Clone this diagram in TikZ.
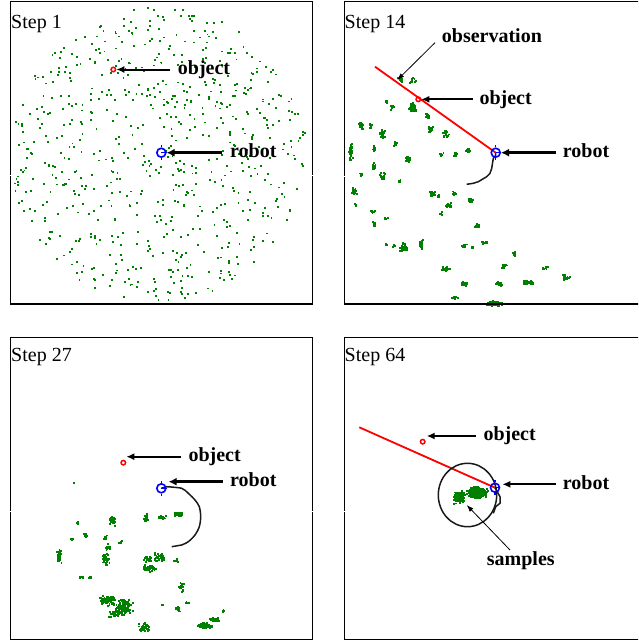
\documentclass[tikz,border=0pt]{standalone}
\usepackage{fontspec}
\setmainfont{Liberation Serif}
\usetikzlibrary{arrows.meta}
\definecolor{grn}{RGB}{0,128,0}
\definecolor{rd}{RGB}{255,0,0}
\definecolor{bl}{RGB}{0,0,255}
\newcommand\robotat[2]{%
  \node[robmark] (#1) at (#2) {};
  \draw[robline] (#1.north) -- ++(0,-2.2) (#1.south) -- ++(0,2.2) (#1.center) -- (#1.east);
}
\newcommand\clusters[1]{%
  \foreach \cx/\cy/\sx/\sy/\n in {#1}{
    \pgfmathtruncatemacro\nn{max(1,1.8*\n)}
    \foreach \j in {1,...,\nn}{
      \pgfmathsetmacro\px{\cx+\sx*(rand+rand)/2}
      \pgfmathsetmacro\py{\cy+\sy*(rand+rand)/2}
      \fill[grn] (\px,\py) rectangle ++(1.9,1.9);
    }
  }
}
\begin{document}
\begin{tikzpicture}[x=1pt,y=-1pt,
  frame/.style={line width=1.5pt,black},
  steplbl/.style={font=\fontsize{20}{24}\selectfont,inner sep=0,anchor=base west},
  lbl/.style={font=\fontsize{20}{24}\selectfont\bfseries,inner sep=0,anchor=base west},
  objmark/.style={circle,draw=rd,line width=1.5pt,minimum size=4.5pt,inner sep=0},
  robmark/.style={circle,draw=bl,line width=1.6pt,minimum size=9pt,inner sep=0},
  robline/.style={draw=bl,line width=1.3pt},
  arr/.style={-{Latex[length=8pt,width=7pt]},line width=2pt},
  robarr/.style={-{Latex[length=8pt,width=8pt]},line width=3pt},
  thinarr/.style={-{Latex[length=7pt,width=5pt]},line width=0.8pt},
  redline/.style={draw=rd,line width=1.8pt},
  traj/.style={draw=black!90,line width=1.5pt,line join=round},
  tick/.style={draw=white,line width=1pt}]
\useasboundingbox (0,0) rectangle (638,640);
\clip (0,0) rectangle (638,640);
\pgfmathsetseed{4711}

% ---------------- Panel 1 : uniform particles
\foreach \i in {1,...,720}{
  \pgfmathsetmacro\rad{148*sqrt(rnd)}
  \pgfmathsetmacro\ang{360*rnd}
  \fill[grn] ({158+\rad*cos(\ang)},{154+\rad*sin(\ang)}) rectangle ++(1.9,1.9);
}
\draw[frame] (10.7,1.7) rectangle (312.3,304);
\node[steplbl] (s1) at (11,28.5) {Step 1};
\node[objmark] (o1) at (113.3,69.5) {};
\node[lbl] (lo1) at (177.7,74.5) {object};
\coordinate (ao1) at (170,69.5);
\draw[arr] (ao1) -- (o1);
\robotat{r1}{161.3,152.7}
\node[lbl] (lr1) at (230,157.5) {robot};
\coordinate (ar1) at (222,152.7);
\draw[robarr] (ar1) -- (r1);

% ---------------- Panel 2
\clusters{
  400/78.3/3/3/6, 411.7/80/4/3/9, 385/100/1.5/3/3, 391.7/106.7/2/4/5,
  411.7/106.7/4/5/22, 426.7/115/3/3/6, 430/128.3/3/3/16, 445/133.3/4/4/10,
  360/125/2/4/8, 370/125/2/3/5, 381.7/133.3/3/5/12, 350/151.7/2/9/22,
  373.3/148.3/2/4/8, 373.3/165/2/5/9, 395/143.3/2/2/4, 406.7/158.3/3/3/12,
  440/153.3/3/2/6, 455/153.3/3/2/7, 466.7/150/3/2/6, 381.7/175/3/4/10,
  398.3/180/2/2/4, 360/173.3/2/3/6, 353.3/190/3/4/10, 371.7/210/3/2/6,
  355/203/1.5/3/4, 373.3/223.3/2/3/5, 385/216.7/2/2/3,
  403.3/246.7/5/5/22, 420/243.3/3/5/16, 385/243.3/1.5/1.5/2, 393.3/245/2/2/3,
  431.7/193.3/4/4/10, 438.3/195/2/2/4, 448.3/205/4/3/10, 453.3/193.3/2/3/5,
  470/200/3/4/8, 476.7/225/3/2/14, 483.3/241.7/4/2/10, 463.3/245/3/2/5,
  471.7/246.7/2/1.5/3, 513.3/253.3/2/3/7, 503.3/265/4/2/8, 445/268.3/5/3/16,
  463.3/283.3/4/3/8, 498.3/283.3/4/3/10, 526.7/281.7/7/3/22, 543.3/267.3/4/2/5,
  565/276.7/5/4/9, 493.3/302.7/9/3/28, 453.3/296.7/4/2/5, 440/213/2/2/3}
\coordinate (rl2) at (375,66.7);
\coordinate (rp2) at (495.7,152.7);
\draw[redline] (rl2) -- (rp2);
\draw[traj] (rp2) -- (495.5,156) -- (493.3,158.3) -- (491.7,168.3) -- (490,173.3) -- (486.7,176.7)
  -- (478.3,181.7) -- (473.3,183.3) -- (466.7,184.3);
\draw[frame] (344.3,1.7) rectangle (646,304);
\node[steplbl] (s2) at (344.5,28.5) {Step 14};
\node[lbl] (lobs) at (441.7,42.5) {observation};
\coordinate (aobs) at (435,42.7);
\coordinate (tobs) at (397.3,80);
\draw[thinarr] (aobs) -- (tobs);
\node[objmark] (o2) at (418.3,99.3) {};
\node[lbl] (lo2) at (479.3,104) {object};
\coordinate (ao2) at (472.7,99.3);
\draw[arr] (ao2) -- (o2);
\robotat{r2}{495.7,152.7}
\node[lbl] (lr2) at (562.7,157.5) {robot};
\coordinate (ar2) at (556,152.7);
\draw[robarr] (ar2) -- (r2);

% ---------------- Panel 3
\clusters{
  73.3/482.3/0.5/0.5/1, 111.7/520/3/6/14, 145/518.3/3/6/12, 161.7/516.7/5/2/10,
  176.7/513.3/6/3/14, 76.7/521.7/1/3/4, 85/535/2/3/5, 105/536.7/2/3/6,
  106.7/546.7/3/4/10, 120/541.7/2/2/4, 71.7/538.3/2/1/3, 58.3/555/3/8/18,
  105/558.3/4/7/26, 146.7/558.3/5/3/12, 158.3/556.7/6/5/22, 175/560/3/2/6,
  148.3/566.7/8/4/20, 80/576.7/3/2/4, 90/576.7/3/1/3, 180/586.7/3/5/12,
  106.7/600/9/6/40, 123.3/606.7/9/9/60, 113.3/613.3/6/4/14, 176.7/608.3/3/3/8,
  186.7/601.7/2/1/3, 161.7/604/1/1/2, 143.3/626.7/7/5/22, 203.3/625/9/4/34,
  213.3/618.3/7/3/16, 223.3/610/2/2/3}
\coordinate (rp3) at (161.3,488.3);
\draw[traj] (rp3) -- (166.7,486.7) plot[smooth] coordinates {(166.7,486.7) (181.7,488.3) (188.3,493.3) (195,500)
  (199.3,506.7) (200.7,516.7) (199.3,526.7) (195,535) (188.3,541.7) (181.7,545)} -- (171.7,546.7);
\draw[frame] (10.7,337.3) rectangle (312.3,639.3);
\node[steplbl] (s3) at (11,361) {Step 27};
\node[objmark] (o3) at (123.3,462.7) {};
\node[lbl] (lo3) at (188.3,461.2) {object};
\coordinate (ao3) at (181,456.7);
\draw[arr] (ao3) -- (ao3 -| o3.east);
\robotat{r3}{161.3,488.3}
\node[lbl] (lr3) at (230,486.2) {robot};
\coordinate (ar3) at (222.7,481.7);
\draw[robarr] (ar3) -- ([xshift=2pt]ar3 -| r3.east);

% ---------------- Panel 4
\clusters{458.3/496.7/6/7/70, 476/491.7/11/6/120}
\coordinate (rl4) at (359.3,427.3);
\coordinate (rp4) at (495,487.7);
\draw[redline] (rl4) -- (rp4);
\draw[traj] (467.5,495) ellipse [x radius=29.2, y radius=31.7];
\draw[traj] (rp4) -- (500,496.7) -- (500,503.3) -- (495.7,506.7) -- (493.3,513.3);
\draw[frame] (344.3,337.3) rectangle (646,639.3);
\node[steplbl] (s4) at (344.5,361) {Step 64};
\node[objmark] (o4) at (422.7,441.7) {};
\node[lbl] (lo4) at (483.3,440.5) {object};
\coordinate (ao4) at (475.7,436);
\draw[arr] (ao4) -- ([xshift=1pt]ao4 -| o4.east);
\robotat{r4}{495,487.7}
\node[lbl] (lr4) at (562.7,489) {robot};
\coordinate (ar4) at (556,484.3);
\draw[arr] (ar4) -- ([xshift=2pt]ar4 -| r4.east);
\node[lbl] (ls4) at (486.7,565) {samples};
\coordinate (as4) at (510,550);
\coordinate (ts4) at (466.7,505);
\draw[thinarr] (as4) -- (ts4);

% white ticks on frame borders
\draw[tick] (6,175) -- (15,175) (308,175) -- (317,175) (340,176.7) -- (349,176.7);
\draw[tick] (6,511.7) -- (15,511.7) (308,511.7) -- (317,511.7) (340,511.7) -- (349,511.7);
\end{tikzpicture}
\end{document}
